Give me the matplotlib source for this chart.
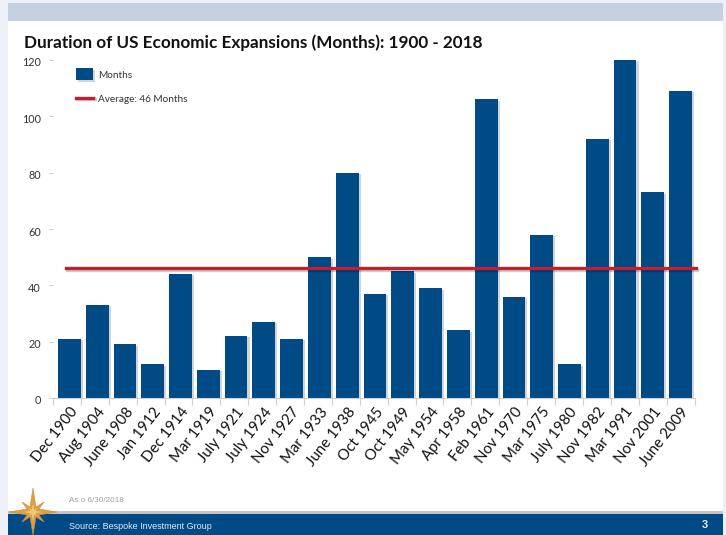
import matplotlib
matplotlib.use("Agg")
import matplotlib.pyplot as plt
import matplotlib.patheffects as pe
from matplotlib.patches import Polygon, Rectangle
from matplotlib.transforms import ScaledTranslation
import numpy as np

plt.rcParams['font.family'] = ['Lato', 'DejaVu Sans']

starts = ['Dec 1900', 'Aug 1904', 'June 1908', 'Jan 1912', 'Dec 1914', 'Mar 1919',
          'July 1921', 'July 1924', 'Nov 1927', 'Mar 1933', 'June 1938', 'Oct 1945',
          'Oct 1949', 'May 1954', 'Apr 1958', 'Feb 1961', 'Nov 1970', 'Mar 1975',
          'July 1980', 'Nov 1982', 'Mar 1991', 'Nov 2001', 'June 2009']
months = [21, 33, 19, 12, 44, 10, 22, 27, 21, 50, 80, 37, 45, 39, 24, 106, 36, 58,
          12, 92, 120, 73, 109]
average = 46
y_ticks = [0, 20, 40, 60, 80, 100, 120]

W, H = 726, 535
navy = '#004a85'
fig = plt.figure(figsize=(W / 100, H / 100), dpi=100, facecolor='#eef0f7')

# slide background in pixel coordinates
bg = fig.add_axes([0, 0, 1, 1], zorder=0)
bg.set_xlim(0, W)
bg.set_ylim(H, 0)
bg.axis('off')
bg.add_patch(Rectangle((8, 3), 715, 532, color='white', lw=0))
bg.add_patch(Rectangle((8, 3), 715, 18, color='#c5d0e0', lw=0))
bg.add_patch(Rectangle((8, 511), 715, 3, color='#c4c4c4', lw=0))
bg.add_patch(Rectangle((8, 514), 715, 21, color=navy, lw=0))

# compass star on the footer edge
cx, cy = 33, 512
outer = [(0, -24), (3, -5), (11, -10), (6, -3), (24, 0), (6, 3), (11, 10), (3, 5), (0, 23),
         (-3, 5), (-11, 10), (-6, 3), (-24, 0), (-6, -3), (-11, -10), (-3, -5)]
bg.add_patch(Polygon([(cx + a, cy + b) for a, b in outer], closed=True,
                     facecolor='#dc9f45', edgecolor='#c98f3a', lw=0.4))
bg.add_patch(Polygon([(cx + a * 0.4, cy + b * 0.4) for a, b in outer], closed=True,
                     facecolor='#f0c87c', lw=0))

bg.text(24, 43, 'Duration of US Economic Expansions (Months): 1900 - 2018',
        fontsize=12.35, fontweight='bold', color='#111111', va='center')
bg.text(69, 500, 'As o 6/30/2018', fontsize=5.9, color='#a0a0a0', va='center',
        family=['Liberation Sans'])
bg.text(69, 526.5, 'Source: Bespoke Investment Group', fontsize=6.5, color='#e6ecf3',
        va='center', family=['Liberation Sans'])
bg.text(705, 525.5, '3', fontsize=8, fontweight='bold', color='#e6ecf3', ha='center',
        va='center', family=['Liberation Sans'])

# chart area: x from 53 to 694.5 px, y from 60 to 398 px
ax = fig.add_axes([53 / W, 1 - 398 / H, 641.5 / W, 338 / H], zorder=1)
ax.patch.set_alpha(0)

x = np.arange(len(months))
shadow = [pe.SimplePatchShadow(offset=(1.5, -1), alpha=0.18), pe.Normal()]
bars = ax.bar(x, months, width=0.82, color=navy, label='Months', zorder=2)
for bar in bars:
    bar.set_path_effects(shadow)
# average line starts inside the first bar and runs just past the last tick
line = ax.axhline(average, xmin=0.0203, xmax=1.0023, color='#c0202f', lw=2.4,
                  label='Average: %d Months' % average, zorder=3, clip_on=False,
                  path_effects=[pe.SimpleLineShadow(offset=(1, -1), alpha=0.2), pe.Normal()])

ax.set_xlim(-0.59, len(months) - 0.5)
ax.set_ylim(0, 120)
ax.set_yticks(y_ticks)
ax.set_xticks(x)
ax.set_xticklabels(starts, rotation=52, ha='right', rotation_mode='anchor', fontsize=10.8,
                   color='#111111')
# labels end a little to the right of their bar centre
nudge = ScaledTranslation(10 / 100, 0, fig.dpi_scale_trans)
for lab in ax.get_xticklabels():
    lab.set_transform(lab.get_transform() + nudge)
ax.set_xticks(np.linspace(-0.59, len(months) - 0.5, len(months) + 1), minor=True)
ax.tick_params(axis='x', which='major', length=0, pad=5)
ax.tick_params(axis='x', which='minor', length=5, width=0.8, color='#cfcfcf')
ax.tick_params(axis='y', length=3, width=0.7, color='#cfcfcf', labelsize=7.8, labelcolor='#333333', pad=5.6)
# value labels sit slightly under their ticks
drop = ScaledTranslation(0, -2 / 100, fig.dpi_scale_trans)
for lab in ax.get_yticklabels():
    lab.set_transform(lab.get_transform() + drop)

for side in ['top', 'right', 'left']:
    ax.spines[side].set_visible(False)
ax.spines['bottom'].set_color('#cfcfcf')

ax.legend(handles=[bars, line], loc='upper left', bbox_to_anchor=(0.0355, 0.976), frameon=False,
          fontsize=7.2, labelcolor='#333333', handlelength=1.75, handleheight=1.5,
          handletextpad=0.5, labelspacing=1.25, borderpad=0, borderaxespad=0)

fig.savefig('out.png', dpi=100, facecolor=fig.get_facecolor())
